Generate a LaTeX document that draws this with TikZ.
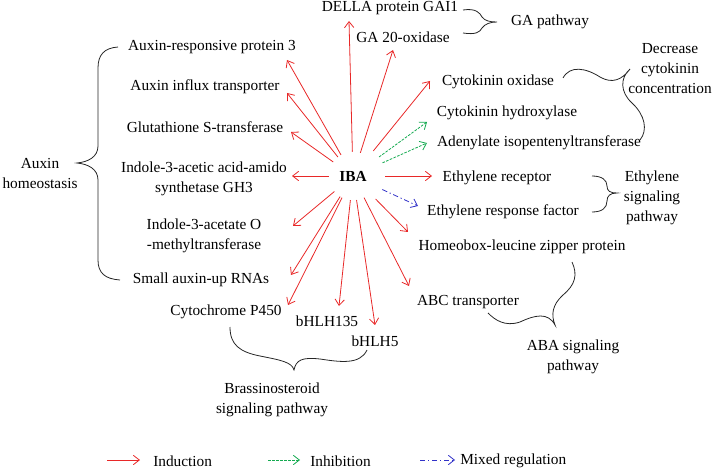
\documentclass[tikz,border=0pt]{standalone}
\usepackage{fontspec}
\setmainfont{Liberation Serif}
\usetikzlibrary{arrows.meta}
\definecolor{indred}{RGB}{232,40,40}
\definecolor{inhgreen}{RGB}{20,170,80}
\definecolor{mixblue}{RGB}{50,50,200}
\begin{document}
\begin{tikzpicture}[x=0.75pt,y=-0.75pt,
  lbl/.style={inner sep=0pt,align=center,font=\fontsize{11.5}{15}\selectfont},
  tipstyle/.style={-{Straight Barb[length=4.5pt,width=7pt]}},
  ind/.style={tipstyle,draw=indred,line width=0.6pt},
  inh/.style={tipstyle,draw=inhgreen,line width=0.6pt,dash pattern=on 2pt off 1pt},
  mix/.style={tipstyle,draw=mixblue,line width=0.6pt,dash pattern=on 4pt off 2pt on 1pt off 2pt},
  brace/.style={draw=black!85,line width=0.6pt},
  far/.style={shorten <=6pt}]
\useasboundingbox (0,0) rectangle (717,470);

% hub
\node[lbl,font=\fontsize{11.5}{15}\selectfont\bfseries,circle,minimum size=36pt] (IBA) at (353,176) {IBA};

% labels
\node[lbl] (della) at (390,8) {DELLA protein GAI1};
\node[lbl] (ga20) at (403,37) {GA 20-oxidase};
\node[lbl] (gap) at (550,22) {GA pathway};
\node[lbl] (arp) at (212,47) {Auxin-responsive protein 3};
\node[lbl] (ait) at (205,87) {Auxin influx transporter};
\node[lbl] (gst) at (205,127) {Glutathione S-transferase};
\node[lbl] (gh3) at (204,179) {Indole-3-acetic acid-amido\\synthetase GH3};
\node[lbl] (iamt) at (204,236) {Indole-3-acetate O\\-methyltransferase};
\node[lbl] (saur) at (201,280) {Small auxin-up RNAs};
\node[lbl] (p450) at (226,312) {Cytochrome P450};
\node[lbl] (b135) at (327,321) {bHLH135};
\node[lbl] (b5) at (375,341) {bHLH5};
\node[lbl] (brass) at (272,400) {Brassinosteroid\\signaling pathway};
\node[lbl] (auxin) at (40,174) {Auxin\\homeostasis};
\node[lbl] (cko) at (498,82) {Cytokinin oxidase};
\node[lbl] (ckh) at (507,113) {Cytokinin hydroxylase};
\node[lbl] (ipt) at (539,143) {Adenylate isopentenyltransferase};
\node[lbl] (decr) at (670,69) {Decrease\\cytokinin\\concentration};
\node[lbl] (etr) at (497,178) {Ethylene receptor};
\node[lbl] (erf) at (503,212) {Ethylene response factor};
\node[lbl] (ethy) at (652,198) {Ethylene\\signaling\\pathway};
\node[lbl] (hd) at (522,247) {Homeobox-leucine zipper protein};
\node[lbl] (abc) at (468,302) {ABC transporter};
\node[lbl] (aba) at (573,357) {ABA signaling\\pathway};

% arrow end points
\coordinate (eDELLA) at (349,21);
\coordinate (eGA20) at (393,50);
\coordinate (eARP) at (287,60);
\coordinate (eAIT) at (287,93);
\coordinate (eGST) at (291,132);
\coordinate (eGH3) at (292,176);
\coordinate (eIAMT) at (293,226);
\coordinate (eSAUR) at (291,275);
\coordinate (eP450) at (288,305);
\coordinate (eB135) at (339,306);
\coordinate (eB5) at (375,325);
\coordinate (eCKO) at (430,81);
\coordinate (eCKH) at (427,122);
\coordinate (eIPT) at (427,143);
\coordinate (eETR) at (432,176);
\coordinate (eERF) at (418,206);
\coordinate (eHD) at (408,232);
\coordinate (eABC) at (409,286);

\draw[ind] (IBA) -- (eDELLA);
\draw[ind] (IBA) -- (eGA20);
\draw[ind] (IBA) -- (eARP);
\draw[ind] (IBA) -- (eAIT);
\draw[ind] (IBA) -- (eGST);
\draw[ind] (IBA) -- (eGH3);
\draw[ind] (IBA) -- (eIAMT);
\draw[ind] (IBA) -- (eSAUR);
\draw[ind] (IBA) -- (eP450);
\draw[ind] (IBA) -- (eB135);
\draw[ind] (IBA) -- (eB5);
\draw[ind,far] (IBA) -- (eCKO);
\draw[inh,far] (IBA) -- (eCKH);
\draw[inh,far] (IBA) -- (eIPT);
\draw[ind,far] (IBA) -- (eETR);
\draw[mix,far] (IBA) -- (eERF);
\draw[ind,far] (IBA) -- (eHD);
\draw[ind] (IBA) -- (eABC);

% braces
\draw[brace] (118,47) .. controls (104,48) and (98,55) .. (98,68) -- (98,146)
  .. controls (98,157) and (88,162) .. (77,163)
  .. controls (88,164) and (98,169) .. (98,180) -- (98,260)
  .. controls (98,273) and (105,279) .. (120,280);
\draw[brace] (463,10) .. controls (476,8) and (480,13) .. (482,17)
  .. controls (485,21) and (490,22) .. (497,22)
  .. controls (490,22) and (485,24) .. (482,28)
  .. controls (480,32) and (476,35) .. (463,33);
\draw[brace] (563,78) .. controls (570,65) and (586,68) .. (600,77)
  .. controls (612,84) and (622,80) .. (630,69)
  .. controls (620,78) and (620,92) .. (632,103)
  .. controls (645,115) and (648,130) .. (640,140);
\draw[brace] (592,176) .. controls (602,176) and (607,180) .. (607,186)
  .. controls (607,191) and (610,193) .. (617,193)
  .. controls (610,193) and (607,196) .. (607,201)
  .. controls (607,208) and (602,212) .. (592,212);
\draw[brace] (572,262) .. controls (578,275) and (575,285) .. (563,295)
  .. controls (552,305) and (551,315) .. (555,325)
  .. controls (548,312) and (535,315) .. (520,322)
  .. controls (505,327) and (495,320) .. (488,313);
\draw[brace] (230,327) .. controls (230,345) and (240,352) .. (260,356)
  .. controls (280,360) and (292,362) .. (294,370)
  .. controls (296,360) and (302,357) .. (320,359)
  .. controls (340,362) and (360,365) .. (367,350);

% legend
\coordinate (l1a) at (107,460); \coordinate (l1b) at (140,460);
\coordinate (l2a) at (268,460); \coordinate (l2b) at (300,460);
\coordinate (l3a) at (420,460); \coordinate (l3b) at (455,460);
\draw[ind] (l1a) -- (l1b);
\draw[inh] (l2a) -- (l2b);
\draw[mix] (l3a) -- (l3b);
\node[lbl,anchor=west] (tind) at (153,461) {Induction};
\node[lbl,anchor=west] (tinh) at (310,461) {Inhibition};
\node[lbl,anchor=west] (tmix) at (460,461) {Mixed regulation};
\end{tikzpicture}
\end{document}
